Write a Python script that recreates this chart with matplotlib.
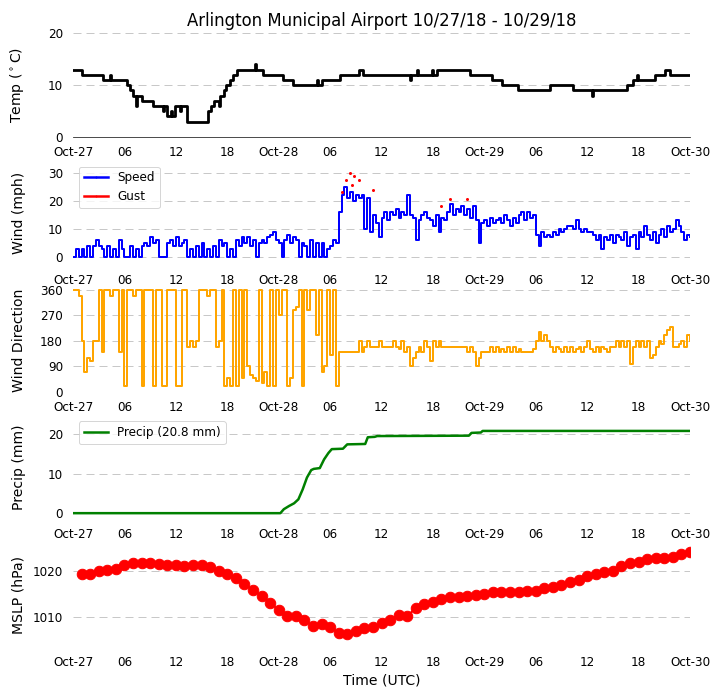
import matplotlib
matplotlib.use('Agg')
import matplotlib.pyplot as plt
import matplotlib.dates as mdates
from matplotlib.lines import Line2D
import pandas as pd

# ---------------- data ----------------
title = "Arlington Municipal Airport 10/27/18 - 10/29/18"
start = pd.Timestamp('2018-10-27 00:00')
end = pd.Timestamp('2018-10-30 00:00')

# temperature (deg C) at change points (hours since start)
temp_hours = [0, 1.0, 3.5, 4.3, 4.4, 6.3, 6.6, 7.0, 7.3, 7.5, 8.0, 9.3, 10.5, 10.6, 11.0,
              11.4, 11.5, 11.9, 12.5, 12.6, 13.3, 15.8, 16.1, 16.4, 17.0, 17.2, 17.6, 17.9,
              18.3, 18.7, 19.1, 21.2, 21.3, 22.2, 24.5, 25.7, 28.5, 28.6, 29.1, 31.2, 33.4,
              33.8, 39.3, 39.4, 40.2, 40.3, 41.9, 42.0, 42.5, 46.3, 48.9, 50.1, 51.9, 55.7,
              58.3, 60.6, 60.7, 64.6, 65.3, 65.8, 65.9, 67.9, 69.1, 69.7, 72.0]
temp_c = [13, 12, 11, 12, 11, 10, 9, 8, 6, 8, 7, 6, 5, 6, 4,
          5, 4, 6, 5, 6, 3, 5, 6, 7, 6, 8, 9, 10,
          11, 12, 13, 14, 13, 12, 11, 10, 11, 10, 11, 12, 13,
          12, 11, 12, 13, 12, 13, 12, 13, 12, 11, 10, 9, 10,
          9, 8, 9, 10, 11, 12, 11, 12, 13, 12, 12]

# wind speed (mph), every 20 minutes
wind_speed = [
    0, 3, 0, 3, 0, 4, 0, 4, 6, 4, 3, 0, 4, 0, 3, 0, 6, 3,
    0, 0, 4, 0, 3, 0, 4, 5, 4, 7, 5, 6, 0, 0, 0, 5, 6, 4,
    7, 4, 5, 6, 0, 3, 0, 4, 0, 5, 0, 3, 0, 4, 0, 6, 4, 5,
    0, 3, 0, 6, 4, 7, 5, 7, 4, 6, 0, 5, 6, 5, 7, 8, 9, 6,
    5, 0, 6, 8, 5, 7, 6, 0, 5, 4, 0, 6, 0, 5, 0, 5, 0, 3,
    4, 6, 5, 16, 22, 25, 21, 23, 20, 22, 21, 22, 10, 21, 9, 15, 12, 7,
    14, 16, 13, 16, 15, 17, 14, 16, 15, 22, 15, 14, 6, 13, 15, 16, 14, 13,
    11, 15, 9, 14, 13, 16, 19, 15, 17, 16, 18, 15, 17, 14, 18, 13, 5, 12,
    13, 11, 14, 12, 13, 14, 12, 15, 13, 11, 14, 12, 15, 16, 13, 16, 14, 15,
    8, 4, 9, 7, 8, 7, 9, 8, 10, 9, 10, 11, 11, 10, 13, 10, 9, 10,
    9, 9, 8, 6, 8, 3, 7, 6, 8, 5, 8, 7, 6, 9, 4, 7, 8, 3,
    9, 7, 11, 8, 6, 9, 5, 8, 10, 7, 11, 9, 10, 13, 11, 9, 6, 8,
    7]

# wind gusts (mph) at hours since start
gust_hours = [31.35, 31.8, 32.36, 32.6, 32.8, 33.4, 35.0, 43.0, 44.0, 46.0]
gust_mph = [23, 27.5, 30, 25.5, 29, 27.5, 24, 18, 20.5, 20.5]

# wind direction (deg), every 20 minutes
wind_dir = [
    360, 360, 340, 180, 70, 120, 110, 180, 180, 360, 140, 360, 360, 340, 360, 360, 140, 360,
    20, 360, 360, 340, 360, 360, 20, 360, 360, 360, 20, 360, 360, 20, 20, 360, 360, 360,
    20, 20, 360, 360, 160, 180, 160, 180, 360, 360, 360, 340, 360, 360, 160, 180, 360, 20,
    50, 20, 360, 20, 360, 50, 360, 90, 60, 50, 40, 360, 30, 70, 20, 360, 20, 360,
    270, 360, 360, 20, 50, 290, 300, 360, 20, 360, 290, 360, 360, 200, 360, 70, 90, 360,
    130, 360, 20, 140, 140, 140, 140, 140, 140, 140, 180, 140, 160, 180, 160, 160, 160, 180,
    160, 160, 160, 160, 180, 160, 150, 180, 140, 160, 90, 120, 140, 160, 140, 180, 160, 110,
    180, 160, 180, 160, 160, 160, 160, 160, 160, 160, 160, 160, 140, 160, 140, 90, 120, 140,
    140, 140, 160, 140, 160, 140, 150, 140, 160, 140, 160, 140, 150, 140, 140, 140, 140, 150,
    180, 210, 180, 200, 180, 160, 140, 160, 150, 140, 160, 140, 160, 140, 150, 160, 140, 160,
    180, 150, 140, 160, 140, 160, 150, 140, 160, 160, 180, 160, 180, 160, 180, 100, 160, 180,
    160, 180, 160, 180, 120, 130, 160, 180, 170, 200, 220, 230, 160, 160, 170, 180, 160, 200,
    180]

# accumulated precipitation (mm)
precip_hours = [0, 24.2, 24.6, 25.2, 25.8, 26.3, 26.8, 27.3, 27.8, 28.1, 28.8, 29.3, 29.8,
                30.2, 31.5, 32.0, 34.1, 34.4, 35.2, 35.5, 46.2, 46.5, 47.6, 47.8, 72]
precip_mm = [0, 0, 1.0, 1.8, 2.5, 3.5, 6.0, 9.0, 10.9, 11.2, 11.4, 13.6, 15.2,
             16.2, 16.3, 17.4, 17.5, 19.2, 19.3, 19.5, 19.6, 20.3, 20.4, 20.8, 20.8]
precip_total = 20.8

# mean sea level pressure (hPa), hourly from hour 1
mslp_hpa = [1019.35, 1019.35, 1020.0, 1020.2, 1020.4, 1021.3, 1021.7, 1021.7, 1021.7, 1021.45,
            1021.2, 1021.2, 1021.1, 1021.3, 1021.3, 1020.9, 1020.0, 1019.35, 1018.55, 1017.2,
            1015.8, 1014.6, 1013.0, 1011.5, 1010.15, 1010.15, 1009.3, 1008.0, 1008.4, 1007.7,
            1006.45, 1006.3, 1006.8, 1007.5, 1007.7, 1008.6, 1009.35, 1010.4, 1010.15, 1011.9,
            1012.8, 1013.2, 1013.9, 1014.35, 1014.4, 1014.55, 1014.8, 1014.9, 1015.3, 1015.3,
            1015.5, 1015.5, 1015.7, 1015.7, 1016.2, 1016.6, 1017.0, 1017.5, 1018.0, 1018.8,
            1019.35, 1019.85, 1020.0, 1021.15, 1021.65, 1022.0, 1022.6, 1022.75, 1022.9, 1023.1,
            1023.6, 1024.05]

# ---------------- times ----------------
def hrs(h):
    return [start + pd.Timedelta(hours=x) for x in h]

temp_t = hrs(temp_hours)
wind_t = pd.date_range(start, periods=len(wind_speed), freq='20min')
dir_t = pd.date_range(start, periods=len(wind_dir), freq='20min')
gust_t = hrs(gust_hours)
precip_t = hrs(precip_hours)
mslp_t = pd.date_range(start + pd.Timedelta(hours=1), periods=len(mslp_hpa), freq='1h')

# ---------------- figure ----------------
W, H = 720, 700
fig = plt.figure(figsize=(W / 72, H / 72), dpi=72)
plt.rcParams['font.family'] = ['DejaVu Sans']

left = 73 / W
width = 617 / W
ax_px = [(33, 137.3), (160.5, 264.5), (288, 392), (415.5, 519.5), (543, 647)]
axes = []
for top, bot in ax_px:
    ax = fig.add_axes([left, 1 - bot / H, width, (bot - top) / H])
    axes.append(ax)

grid_kw = dict(color='#c8c8c8', linestyle=(0, (8, 5)), linewidth=1.0)
label_x = (26 - 73) / 617

for ax in axes:
    ax.set_xlim(start, end)
    ax.xaxis.set_major_locator(mdates.DayLocator())
    ax.xaxis.set_major_formatter(mdates.DateFormatter('%b-%d'))
    ax.xaxis.set_minor_locator(mdates.HourLocator(byhour=[6, 12, 18]))
    ax.xaxis.set_minor_formatter(mdates.DateFormatter('%H'))
    ax.tick_params(axis='x', which='both', length=0, pad=9, labelsize=12)
    ax.tick_params(axis='y', length=0, pad=10, labelsize=12)
    for s in ax.spines.values():
        s.set_visible(False)
    ax.yaxis.grid(True, **grid_kw)
    ax.set_axisbelow(True)

# Temperature
ax = axes[0]
ax.plot(temp_t, temp_c, color='black', lw=2.8, drawstyle='steps-post')
ax.set_ylim(0, 20)
ax.set_yticks([0, 10, 20])
ax.spines['bottom'].set_visible(True)
ax.spines['bottom'].set_color('#222222')
ax.set_ylabel('Temp ($^\\circ$C)', fontsize=14)
ax.set_title(title, fontsize=16.5, pad=7)

# Wind speed
ax = axes[1]
ax.plot(wind_t, wind_speed, color='blue', lw=2.0, drawstyle='steps-post')
ax.plot(gust_t, gust_mph, color='red', marker='.', ms=4, ls='none')
ax.set_ylim(-2.7, 34.4)
ax.set_yticks([0, 10, 20, 30])
ax.set_ylabel('Wind (mph)', fontsize=14)
handles = [Line2D([], [], color='blue', lw=2.5, marker='.', ms=2, label='Speed'),
           Line2D([], [], color='red', lw=2.5, marker='.', ms=2, label='Gust')]
ax.legend(handles=handles, loc='upper left', fontsize=12)

# Wind direction
ax = axes[2]
ax.plot(dir_t, wind_dir, color='orange', lw=2.0, drawstyle='steps-post')
ax.set_ylim(0, 367)
ax.set_yticks([0, 90, 180, 270, 360])
ax.set_ylabel('Wind Direction', fontsize=14)

# Precip
ax = axes[3]
ax.plot(precip_t, precip_mm, color='green', lw=2.5,
        label='Precip (%.1f mm)' % precip_total)
ax.set_ylim(-1.6, 24.7)
ax.set_yticks([0, 10, 20])
ax.set_ylabel('Precip (mm)', fontsize=14)
ax.legend(loc='upper left', fontsize=12)

# MSLP
ax = axes[4]
ax.plot(mslp_t, mslp_hpa, color='red', marker='o', ms=10.5, lw=2)
ax.set_ylim(1003.4, 1026.1)
ax.set_yticks([1010, 1020])
ax.set_ylabel('MSLP (hPa)', fontsize=14)
ax.set_xlabel('Time (UTC)', fontsize=14)

for ax in axes:
    ax.yaxis.set_label_coords(label_x, 0.5)

fig.savefig('out.png', dpi=72)
